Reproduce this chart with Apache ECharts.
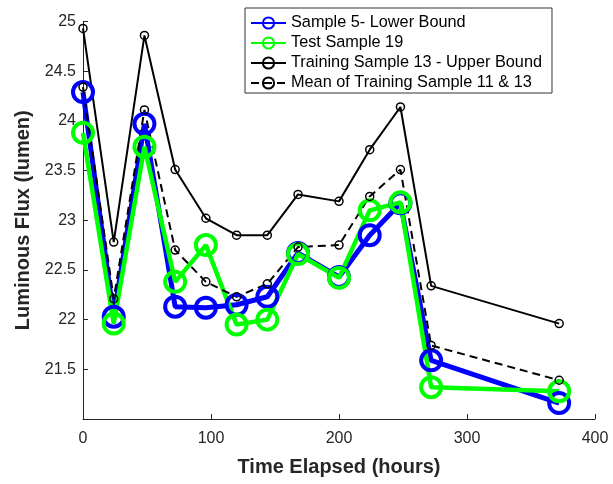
<!DOCTYPE html>
<html>
<head>
<meta charset="utf-8">
<script src="https://cdn.jsdelivr.net/npm/echarts@6/dist/echarts.min.js"></script>
<style>
html,body{margin:0;padding:0;background:#fff;}
#chart{width:613px;height:484px;}
</style>
</head>
<body>
<div id="chart"></div>
<script>
const hours = [0, 24, 48, 72, 96, 120, 144, 168, 200, 224, 248, 272, 372];
const sample5 = [24.29, 22.03, 23.97, 22.13, 22.12, 22.15, 22.23, 22.67, 22.43, 22.85, 23.17, 21.59, 21.16];
const test19 = [23.88, 21.96, 23.74, 22.38, 22.75, 21.95, 22.00, 22.66, 22.42, 23.10, 23.18, 21.32, 21.28];
const upper13 = [24.93, 22.78, 24.86, 23.51, 23.02, 22.85, 22.85, 23.26, 23.19, 23.71, 24.14, 22.34, 21.96];
const mean11_13 = [24.34, 22.21, 24.11, 22.70, 22.38, 22.23, 22.36, 22.73, 22.75, 23.24, 23.51, 21.74, 21.39];
const seriesNames = ['Sample 5- Lower Bound', 'Test Sample 19', 'Training Sample 13 - Upper Bound', 'Mean of Training Sample 11 & 13'];

function pairs(ys) { return hours.map((h, i) => [h, ys[i]]); }

const font = 'Liberation Sans, Arial, sans-serif';
const axisColor = '#262626';

const chart = echarts.init(document.getElementById('chart'), null, {renderer: 'canvas'});
chart.setOption({
  animation: false,
  backgroundColor: '#ffffff',
  grid: {left: 83, right: 18, top: 21.5, bottom: 65, containLabel: false},
  legend: {
    orient: 'vertical',
    left: 245, top: 8,
    padding: [7, 10, 2, 5],
    itemWidth: 35, itemHeight: 14, itemGap: 4,
    borderColor: '#333333', borderWidth: 1,
    backgroundColor: '#ffffff',
    textStyle: {fontFamily: font, fontSize: 16.3, color: '#000', lineHeight: 16},
    data: seriesNames
  },
  xAxis: {
    type: 'value', min: 0, max: 400, interval: 100,
    name: 'Time Elapsed (hours)', nameLocation: 'middle', nameGap: 38,
    nameTextStyle: {fontFamily: font, fontSize: 20, fontWeight: 'bold', color: axisColor},
    axisLine: {show: true, lineStyle: {color: axisColor, width: 1}},
    axisTick: {show: true, inside: true, length: 5, lineStyle: {color: axisColor}},
    axisLabel: {fontFamily: font, fontSize: 16, color: axisColor, margin: 12},
    splitLine: {show: false}
  },
  yAxis: {
    type: 'value', min: 21, max: 25, interval: 0.5,
    name: 'Luminous Flux (lumen)', nameLocation: 'middle', nameGap: 50,
    nameTextStyle: {fontFamily: font, fontSize: 20, fontWeight: 'bold', color: axisColor},
    axisLine: {show: true, lineStyle: {color: axisColor, width: 1}},
    axisTick: {show: true, inside: true, length: 5, lineStyle: {color: axisColor}},
    axisLabel: {fontFamily: font, fontSize: 16, color: axisColor, margin: 7, showMinLabel: false},
    splitLine: {show: false}
  },
  series: [
    {
      name: seriesNames[0], type: 'line', data: pairs(sample5), clip: false,
      symbol: 'circle', symbolSize: 20,
      lineStyle: {color: '#0000ff', width: 5},
      itemStyle: {color: 'rgba(0,0,0,0)', borderColor: '#0000ff', borderWidth: 4}
    },
    {
      name: seriesNames[1], type: 'line', data: pairs(test19), clip: false,
      symbol: 'circle', symbolSize: 20,
      lineStyle: {color: '#00ff00', width: 4.5},
      itemStyle: {color: 'rgba(0,0,0,0)', borderColor: '#00ff00', borderWidth: 4}
    },
    {
      name: seriesNames[2], type: 'line', data: pairs(upper13), clip: false,
      symbol: 'circle', symbolSize: 8,
      lineStyle: {color: '#000000', width: 2},
      itemStyle: {color: 'rgba(0,0,0,0)', borderColor: '#000000', borderWidth: 1.5}
    },
    {
      name: seriesNames[3], type: 'line', data: pairs(mean11_13), clip: false,
      symbol: 'circle', symbolSize: 8,
      lineStyle: {color: '#000000', width: 2, type: [8, 5]},
      itemStyle: {color: 'rgba(0,0,0,0)', borderColor: '#000000', borderWidth: 1.5}
    }
  ]
});
</script>
</body>
</html>
